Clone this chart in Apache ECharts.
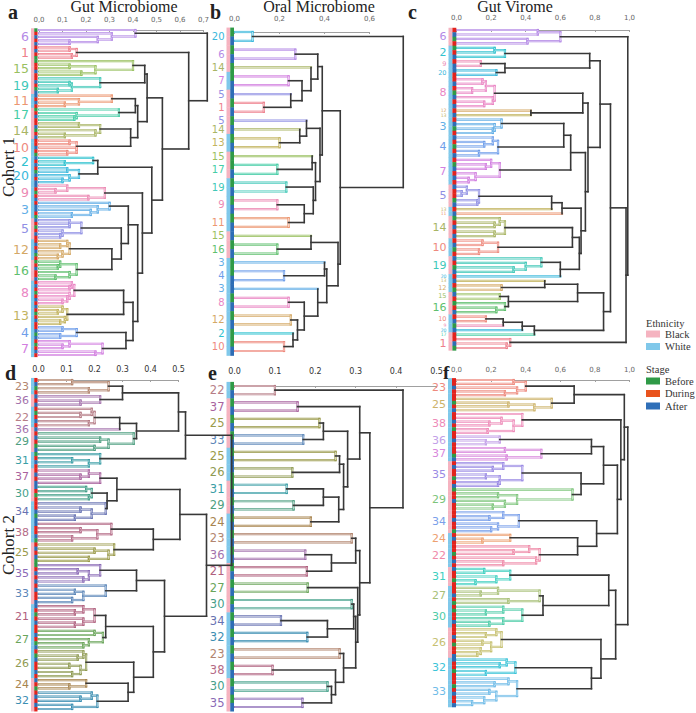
<!DOCTYPE html>
<html><head><meta charset="utf-8">
<script src="https://cdn.jsdelivr.net/npm/echarts@6/dist/echarts.min.js"></script>
<style>html,body{margin:0;padding:0;background:#fff}#c{width:696px;height:713px}</style>
</head><body><div id="c"></div>
<script>
// ---------------- DATA ----------------
// Panel a: Gut Microbiome, cohort 1
const aLabels = ['6','1','15','19','11','17','14','10','2','20','9','3','5','12','16','8','13','4','7'];
const aEthnicity = ['P','P','P','P','W','P','P','W','W','W','W','W','P','W','P','W','W','W','W'];
const aStages = ['GRBRB','RBRG','GRRBR','RBRGB','BRBR','GRBR','RBGRB','RRBRG','BRB','RGBRB','BRGRB','RBBRG','BRGRBR','RBRBGR','GRBRRB','RBRGRBR','BRGRBR','RBGB','RGRBR'];
const aSubtrees = [
 [.41,1,[.31,1,[.25,1,[.13,1,1]]]], [.16,[.13,1,1],[.14,1,1]], [.40,1,[.24,[.13,1,1],[.18,1,1]]],
 [.26,1,[.14,[.13,1,1],[.08,1,1]]], [.31,1,[.17,1,[.11,1,1]]], [.34,1,[.16,1,[.15,1,1]]],
 [.26,[.17,1,1],[.24,1,[.11,1,1]]], [.16,[.13,1,1],[.16,1,[.12,1,1]]], [.23,1,[.11,1,1]],
 [.17,[.12,1,1],[.13,1,[.10,1,1]]], [.28,[.12,1,[.07,1,1]],[.21,1,1]], [.30,1,[.25,1,[.22,1,[.14,1,1]]]],
 [.18,[.13,1,[.13,1,1]],[.10,1,[.09,1,1]]], [.13,[.12,1,[.09,1,1]],[.10,1,[.08,1,1]]], [.16,[.09,1,[.08,1,1]],[.13,1,[.07,1,1]]],
 [.15,[.14,1,[.13,1,1]],[.13,1,[.12,1,[.10,1,1]]]], [.12,[.10,1,[.08,1,1]],[.11,1,[.09,1,1]]], [.16,[.10,1,1],[.09,1,1]],
 [.27,[.13,1,[.10,1,1]],[.24,1,1]]
];
const aTree = [0.716, 0, [0.637, 1, [0.525, [0.46, [0.45, 2, 3], [0.42, [0.41, 4, 5], [0.39, 6, 7]]],
  [0.48, [0.25, 8, 9], [0.44, 10, [0.42, [0.38, 11, [0.35, 12, [0.31, 13, 14]]], [0.40, [0.36, 15, 16], [0.37, 17, 18]]]]]]]];

// Panel b: Oral Microbiome, cohort 1
const bLabels = ['20','6','14','7','5','1','5','14','13','15','17','19','9','11','15','16','3','4','3','8','12','2','10'];
const bEthnicity = ['P','P','P','W','P','P','P','P','W','P','P','W','W','W','P','P','W','W','W','W','W','W','W'];
const bStages = ['GB','GB','G','GB','B','GB','G','B','GB','G','GB','GB','GB','GB','B','GB','G','GB','B','GB','GB','G','GB'];
const bSubtrees = [[.08,1,1],[.27,1,1],1,[.24,1,1],1,[.13,1,1],1,1,[.20,1,1],1,[.19,1,1],[.23,1,1],[.19,1,1],[.24,1,1],1,[.19,1,1],1,[.22,1,1],1,[.24,1,1],[.25,1,1],1,[.22,1,1]];
const bTree = [0.75, 0, [0.47,
  [0.39, [0.37, 1, [0.34, 2, [0.30, 3, [0.25, 4, 5]]]], [0.38, [0.32, 6, [0.29, 7, 8]], [0.36, [0.345, 9, 10], [0.35, 11, [0.31, 12, 13]]]]],
  [0.46, [0.34, 14, 15], [0.41, [0.40, 16, 17], [0.37, 18, [0.31, 19, [0.28, 20, [0.26, 21, 22]]]]]]]];

// Panel c: Gut Virome, cohort 1
const cLabels = ['6','2','9','20','8','12','13','3','4','7','5','13','11','14','10','19','20','13','12','15','16','10','9','20','17','1'];
const cEthnicity = ['P','W','W','W','W','W','W','W','W','W','P','W','W','P','W','P','W','W','W','P','P','W','W','W','P','P'];
const cStages = ['RBGR','GRB','RB','BR','RBRGBRB','R','B','RBGR','BRGRB','RGBRBR','BRRGB','R','B','GRBRB','RBGR','BRGB','R','B','RG','BR','GRB','RB','G','B','R','RBG'];
const cSubtrees = [
 [.60,[.47,1,1],[.41,1,1]], [.28,[.22,1,1],1], [.14,1,1], [.23,1,1],
 [.22,[.17,[.15,1,1],[.09,1,1]],[.21,1,[.16,1,1]]], 1, 1, [.26,1,[.22,1,[.21,1,1]]],
 [.24,[.21,1,[.16,1,1]],[.13,1,1]], [.25,[.20,1,[.17,1,1]],[.11,1,[.07,1,1]]], [.13,[.06,1,[.03,1,1]],[.12,1,1]], 1, 1,
 [.28,[.25,1,[.22,1,1]],[.22,1,1]], [.24,[.15,1,1],[.13,1,1]], [.49,1,[.40,1,[.33,1,1]]], 1, 1,
 [.26,1,1], [.25,1,1], [.28,1,[.23,1,1]], [.17,1,1], 1, 1, 1, [.31,1,[.29,1,1]]
];
const cTree = [0.99, 0, [0.98, [0.89,
  [0.83, [0.77, 1, [0.28, 2, 3]], [0.76, [0.73, 4, [0.43, 5, 6]], [0.745, [0.66, [0.62, 7, 8], 9], [0.72, [0.61, [0.55, 10, 11], 12], [0.71, [0.67, 13, 14], [0.60, 15, 16]]]]]],
  [0.85, [0.70, [0.51, 17, 18], [0.30, 19, 20]], [0.45, [0.38, [0.27, 21, 22], 23], 24]]], 25]];

// Panel d: Gut Microbiome, cohort 2
const dLabels = ['23','36','22','36','29','31','37','30','34','38','25','35','33','21','27','26','24','32'];
const dEthnicity = ['W','P','W','P','P','W','P','P','W','W','P','P','P','W','W','W','P','P'];
const dStages = ['RBGR','BRB','RGRBR','B','RBRGB','GRBR','RBRB','BRGR','RRBGB','BRRBG','RBRBG','GRBRB','RBRRB','BRGRBR','RBRGB','RGBRRBR','BRG','RBRBR'];
const dSubtrees = [
 [.25,[.12,1,1],[.18,1,1]], [.22,1,[.15,1,1]], [.20,[.19,1,[.15,1,1]],[.18,1,1]], 1,
 [.34,1,[.25,[.22,1,1],[.20,1,1]]], [.22,1,[.18,[.12,1,1],1]], [.22,[.18,1,[.15,1,1]],1], [.19,[.17,1,1],[.18,1,1]],
 [.24,1,[.19,[.15,1,1],[.13,1,1]]], [.26,1,[.21,[.15,1,1],[.12,1,1]]], [.27,1,[.25,[.20,1,1],[.18,1,1]]],
 [.22,1,[.18,[.14,1,1],[.16,1,1]]], [.24,1,[.16,[.13,1,1],[.12,1,1]]], [.20,[.16,1,[.13,1,1]],[.16,1,[.13,1,1]]],
 [.23,[.20,1,1],[.18,1,[.16,1,1]]], [.17,[.16,1,[.14,1,1]],[.15,[.11,1,1],[.12,1,1]]], [.17,1,[.11,1,1]],
 [.21,[.19,1,[.15,1,1]],[.12,1,1]]
];
const dTree = [0.69,
  [0.525, [0.50, [0.30, 0, 1], [0.35, [0.29, 2, 3], 4]], 5],
  [0.60, [0.505, [0.28, 6, [0.245, 7, 8]], [0.41, 9, 10]], [0.45, [0.35, 11, 12], [0.41, [0.24, 13, 14], [0.34, 15, [0.32, 16, 17]]]]]];

// Panel e: Oral Microbiome, cohort 2
const eLabels = ['22','37','25','33','25','26','31','29','24','23','36','21','27','30','34','32','23','38','30','35'];
const eEthnicity = ['W','P','P','P','W','W','P','P','W','W','W','P','P','P','W','W','W','W','P','P'];
const eStages = ['GB','GB','GB','GB','GB','BG','GB','GB','GB','GB','GB','GB','GB','GB','GB','GB','GB','GB','GB','GB'];
const eSubtrees = [[.10,1,1],[.156,1,1],[.21,1,1],[.17,1,1],[.25,1,1],[.143,1,1],[.129,1,1],[.146,1,1],[.189,1,1],[.29,1,1],
 [.175,1,1],[.179,1,1],[.181,1,1],[.29,1,1],[.115,1,1],[.18,1,1],[.26,1,1],[.094,1,1],[.23,1,1],[.168,1,1]];
const eTree = [0.417, 0, [0.335,
  [0.31, 1, [0.28, [0.22, 2, 3], [0.27, [0.26, 4, 5], [0.258, [0.22, 6, 7], 8]]]],
  [0.31, [0.30, 9, [0.24, 10, 11]], [0.305, 12, [0.30, [0.295, 13, [0.23, 14, 15]], [0.27, 16, [0.25, 17, [0.24, 18, 19]]]]]]]];

// Panel f: Gut Virome, cohort 2
const fLabels = ['23','25','38','36','37','35','29','34','24','22','31','27','30','26','32','33'];
const fEthnicity = ['W','W','W','W','W','P','P','P','W','W','P','W','W','P','W','W'];
const fStages = ['RRBRR','RGRB','RRBRGR','RBR','RRGB','RBRRGRB','GRRBRR','RRBRRG','RBR','RRGRBR','BRRGR','RRBRG','RGRRBR','RRBRGRRB','BRRGR','RRGRBRRB'];
const fSubtrees = [
 [.40,[.33,1,1],[.35,1,[.28,1,1]]], [.55,1,[.45,[.30,1,1],1]], [.38,1,[.33,[.26,1,[.19,1,1]],[.18,1,1]]], [.25,1,[.17,1,1]],
 [.49,[.28,1,1],[.29,1,1]], [.38,[.27,1,[.21,1,1]],[.25,[.17,1,1],[.24,1,1]]], [.67,1,[.35,[.24,1,1],[.28,1,[.21,1,1]]]],
 [.36,[.27,1,[.19,1,1]],[.24,1,[.20,1,1]]], [.31,1,[.15,1,1]], [.48,[.42,1,[.33,1,1]],[.46,1,[.27,1,1]]],
 [.31,[.16,1,1],[.23,1,[.11,1,1]]], [.48,[.24,1,[.14,1,1]],[.30,1,1]], [.38,[.27,1,[.17,1,1]],[.27,1,[.19,1,1]]],
 [.26,[.23,1,[.17,1,1]],[.20,[.15,1,1],[.14,1,[.12,1,1]]]], [.34,[.29,1,[.25,1,1]],[.17,1,1]],
 [.35,[.30,1,[.22,1,1]],[.23,[.19,1,1],[.16,1,[.09,1,1]]]]
];
const fTree = [0.99, [0.97, [0.68, 0, 1], [0.95, 2, [0.93, [0.85, [0.78, 3, 4], [0.72, 5, 6]], [0.81, 7, [0.70, 8, 9]]]]],
  [0.92, [0.88, 10, [0.50, 11, 12]], [0.835, 13, [0.78, 14, 15]]]];

// ---------------- STYLE ----------------
const C1 = {'1':'#ee7f8c','2':'#2fc2cf','3':'#62aee6','4':'#6f9eea','5':'#9090e4','6':'#b48ae6','7':'#d27fe0','8':'#ea86c4','9':'#ec8ab4',
  '10':'#ee8a7e','11':'#ec9670','12':'#d4a865','13':'#c2b35e','14':'#a9b565','15':'#99c060','16':'#5fbf6e','17':'#45cda6','19':'#40c8b8','20':'#3ab8dc'};
const C2 = {'21':'#b0607e','22':'#b67d86','23':'#b2856e','24':'#a8844e','25':'#9a9a4a','26':'#8f9a52','27':'#6aa55a','29':'#4e9e80','30':'#45a08a',
  '31':'#3a9ea6','32':'#3b8eb2','33':'#5b86b8','34':'#6772b2','35':'#8a6ab6','36':'#a372ac','37':'#a8629e','38':'#b46a86'};
const C3 = {'23':'#ee8a7e','25':'#cdb36a','38':'#ee8ab8','36':'#c2a0e8','37':'#d887dc','35':'#9a8ae4','29':'#7cc47a','34':'#7aa0ea','24':'#eda070',
  '22':'#ef8aa8','31':'#3ecfc0','27':'#a8c078','30':'#4ecca8','26':'#c6c070','32':'#3cc4d8','33':'#70bce8'};
const STAGE = {G:'#2f9a47', R:'#e2231d', B:'#2d6db5'};
const ETH = {P:'#f5b3c0', W:'#80c8ea'};
const BLACK = '#383838';

const PANELS = [
 {labels:aLabels, eth:aEthnicity, stages:aStages, sub:aSubtrees, tree:aTree, pal:C1},
 {labels:bLabels, eth:bEthnicity, stages:bStages, sub:bSubtrees, tree:bTree, pal:C1},
 {labels:cLabels, eth:cEthnicity, stages:cStages, sub:cSubtrees, tree:cTree, pal:C1},
 {labels:dLabels, eth:dEthnicity, stages:dStages, sub:dSubtrees, tree:dTree, pal:C2},
 {labels:eLabels, eth:eEthnicity, stages:eStages, sub:eSubtrees, tree:eTree, pal:C2},
 {labels:fLabels, eth:fEthnicity, stages:fStages, sub:fSubtrees, tree:fTree, pal:C3},
];
const LAYOUT = [
 {x0:39, unit:235, max:0.7, step:0.1, yTop:30, yBot:355, s0:31, s1:37.5, axisY:24, sep:',', lab:12.5, tick:7, tickCol:'#666'},
 {x0:234.5, unit:225, max:0.6, step:0.2, yTop:32, yBot:351, s0:226.5, s1:234, axisY:22.5, sep:',', lab:10, tick:7, tickCol:'#666'},
 {x0:456.5, unit:173, max:1.0, step:0.2, yTop:30, yBot:348, s0:448.5, s1:456.3, axisY:22, sep:',', lab:11, small:true, tick:7, tickCol:'#666'},
 {x0:38.5, unit:280, max:0.5, step:0.1, yTop:380, yBot:709, s0:31, s1:37.5, axisY:374, sep:'.', lab:11, tick:8, tickCol:'#333'},
 {x0:234.5, unit:404, max:0.5, step:0.1, yTop:386, yBot:707, s0:226.5, s1:234, axisY:376, sep:'.', lab:11.5, tick:8, tickCol:'#333'},
 {x0:456.5, unit:173, max:1.0, step:0.2, yTop:380, yBot:705, s0:448, s1:456, axisY:374, sep:',', lab:11, tick:7, tickCol:'#666'},
];

// ---------------- BUILD ----------------
function layoutPanel(P) {
  const segs = [], leaves = [], centers = [], counts = [];
  let k = 0;
  function inner(node, g) {
    if (!Array.isArray(node)) { leaves.push(g); return {y: k++, h: 0}; }
    const h = node[0], ch = node.slice(1).map(n => inner(n, g));
    ch.forEach(c => { if (h > c.h) segs.push([c.h, c.y, h, c.y, g]); });
    const ys = ch.map(c => c.y), lo = Math.min(...ys), hi = Math.max(...ys);
    segs.push([h, lo, h, hi, g]);
    return {y: (lo + hi) / 2, h};
  }
  function top(node) {
    if (!Array.isArray(node)) {
      const start = k, r = inner(P.sub[node], node);
      centers[node] = (start + k - 1) / 2; counts[node] = k - start;
      r.g = node; r.single = !Array.isArray(P.sub[node]); return r;
    }
    const h = node[0], ch = node.slice(1).map(top);
    ch.forEach(c => segs.push([c.h, c.y, h, c.y, c.single ? c.g : -1]));
    const ys = ch.map(c => c.y), lo = Math.min(...ys), hi = Math.max(...ys);
    segs.push([h, lo, h, hi, -1]);
    return {y: (lo + hi) / 2, h, single: false};
  }
  top(P.tree);
  return {segs, leaves, centers, counts, n: k};
}

const grids = [], xAxes = [], yAxes = [], series = [];
PANELS.forEach((P, pi) => {
  const L = LAYOUT[pi], R = layoutPanel(P);
  const sp = (L.yBot - L.yTop) / (R.n - 1);
  const top = L.yTop - sp / 2, height = R.n * sp;
  const gi = grids.length;
  grids.push({left: L.x0, top: top, width: L.max * L.unit, height: height});
  grids.push({left: L.s0, top: top, width: L.s1 - L.s0, height: height});
  xAxes.push({gridIndex: gi, type: 'value', position: 'top', min: 0, max: L.max, interval: L.step, offset: top - L.axisY,
    axisLine: {show: true, lineStyle: {color: '#a0a0a0', width: 1}},
    axisTick: {show: true, inside: true, length: 2, lineStyle: {color: '#a0a0a0'}},
    axisLabel: {fontSize: L.tick, color: L.tickCol, margin: 0.5, fontFamily: 'DejaVu Sans', hideOverlap: false, lineHeight: L.tick,
      formatter: v => v.toFixed(1).replace('.', L.sep)},
    splitLine: {show: false}});
  xAxes.push({gridIndex: gi + 1, type: 'value', min: 0, max: 2, show: false});
  yAxes.push({gridIndex: gi, type: 'value', inverse: true, min: -0.5, max: R.n - 0.5, show: false});
  yAxes.push({gridIndex: gi + 1, type: 'value', inverse: true, min: -0.5, max: R.n - 0.5, show: false});
  const col = g => P.pal[P.labels[g]] || '#999';
  const colored = R.segs.filter(s => s[4] >= 0), black = R.segs.filter(s => s[4] < 0);
  series.push({type: 'custom', xAxisIndex: gi, yAxisIndex: gi, silent: true, clip: false, z: 2,
    data: colored.map(s => s.slice(0, 4)),
    renderItem: (params, api) => {
      const s = colored[params.dataIndex];
      const p1 = api.coord([s[0], s[1]]), p2 = api.coord([s[2], s[3]]);
      const shape = {x1: p1[0], y1: p1[1], x2: p2[0], y2: p2[1]};
      return {type: 'group', children: [
        {type: 'line', shape: shape, style: {stroke: col(s[4]), lineWidth: 2.2, lineCap: 'square'}},
        {type: 'line', shape: shape, style: {stroke: '#ffffff', lineWidth: 0.7, opacity: 0.85}}]};
    }});
  series.push({type: 'custom', xAxisIndex: gi, yAxisIndex: gi, silent: true, clip: false, z: 3,
    data: black.map(s => s.slice(0, 4)),
    renderItem: (params, api) => {
      const s = black[params.dataIndex];
      const p1 = api.coord([s[0], s[1]]), p2 = api.coord([s[2], s[3]]);
      return {type: 'line', shape: {x1: p1[0], y1: p1[1], x2: p2[0], y2: p2[1]}, style: {stroke: BLACK, lineWidth: 1.6, lineCap: 'square'}};
    }});
  // strips: ethnicity (col 0) and stage (col 1)
  const stripData = [], stripCol = [];
  const within = {};
  R.leaves.forEach((g, i) => {
    within[g] = (within[g] || 0);
    const st = P.stages[g][within[g]] || 'B';
    within[g]++;
    stripData.push([0, i]); stripCol.push(ETH[P.eth[g]]);
    stripData.push([1, i]); stripCol.push(STAGE[st]);
  });
  series.push({type: 'custom', xAxisIndex: gi + 1, yAxisIndex: gi + 1, silent: true, data: stripData,
    renderItem: (params, api) => {
      const c0 = api.value(0), i = api.value(1);
      const p = api.coord([c0, i - 0.5]), q = api.coord([c0 + 1, i + 0.5]);
      return {type: 'rect', shape: {x: p[0], y: p[1], width: q[0] - p[0], height: q[1] - p[1] + 0.4}, style: {fill: stripCol[params.dataIndex]}};
    }});
  // group labels
  series.push({type: 'custom', xAxisIndex: gi + 1, yAxisIndex: gi + 1, silent: true, clip: false,
    data: P.labels.map((l, g) => [0, R.centers[g]]),
    renderItem: (params, api) => {
      const g = params.dataIndex, p = api.coord([0, api.value(1)]);
      const fs = L.small ? (R.counts[g] === 1 ? 4.6 : (R.counts[g] === 2 ? 6.5 : L.lab)) : L.lab;
      return {type: 'text', x: p[0] - 2, y: p[1], style: {text: P.labels[g], fill: col(g), font: fs + 'px "DejaVu Sans"', lineHeight: fs * 0.8, align: 'right', verticalAlign: 'middle'}};
    }});
});

// legend helper series
[['Black', ETH.P], ['White', ETH.W], ['Before', '#2f9a47'], ['During', '#e9531d'], ['After', '#2f6fb8']].forEach(([n, c]) => {
  series.push({type: 'custom', name: n, xAxisIndex: 0, yAxisIndex: 0, data: [], itemStyle: {color: c}, renderItem: () => null});
});

const serif = '"Liberation Serif", "DejaVu Serif", serif';
const T = (text, x, y, size, opts) => Object.assign({type: 'text', x: x, y: y, silent: true,
  style: Object.assign({text: text, font: size + 'px ' + serif, fill: '#222', align: 'center', verticalAlign: 'middle', lineHeight: size * 0.75}, opts || {})});
const L20 = {font: 'bold 20px ' + serif, align: 'left', verticalAlign: 'middle', lineHeight: 14};
const graphics = [
  T('Gut Microbiome', 124, 6.8, 16), T('Oral Microbiome', 319, 6.8, 16), T('Gut Virome', 515, 6.8, 16),
  T('a', 8, 11.5, 20, L20), T('b', 210, 11.5, 20, L20), T('c', 408, 11.5, 20, L20),
  T('d', 5, 372.5, 20, L20), T('e', 208, 372.5, 20, L20), T('f', 443, 372.5, 19, Object.assign({}, L20, {font: 'bold 19px ' + serif})),
  Object.assign(T('Cohort 1', 8, 167, 17), {rotation: Math.PI / 2}),
  Object.assign(T('Cohort 2', 8, 545, 17), {rotation: Math.PI / 2}),
  T('Ethnicity', 646, 323, 10.5, {align: 'left', fill: '#333'}),
  T('Stage', 646, 369, 10.5, {align: 'left', fill: '#333'}),
];

const legendBase = {orient: 'vertical', icon: 'rect', itemWidth: 14, itemHeight: 7, itemGap: 1.5, padding: 0, selectedMode: false,
  textStyle: {fontFamily: serif, fontSize: 10.5, color: '#333'}};
const chart = echarts.init(document.getElementById('c'), null, {renderer: 'svg'});
chart.setOption({
  animation: false, backgroundColor: '#fff',
  grid: grids, xAxis: xAxes, yAxis: yAxes, series: series,
  legend: [Object.assign({data: ['Black', 'White'], left: 646, top: 328.5}, legendBase),
           Object.assign({data: ['Before', 'During', 'After'], left: 646, top: 375.5}, legendBase)],
  graphic: graphics
});
</script></body></html>
